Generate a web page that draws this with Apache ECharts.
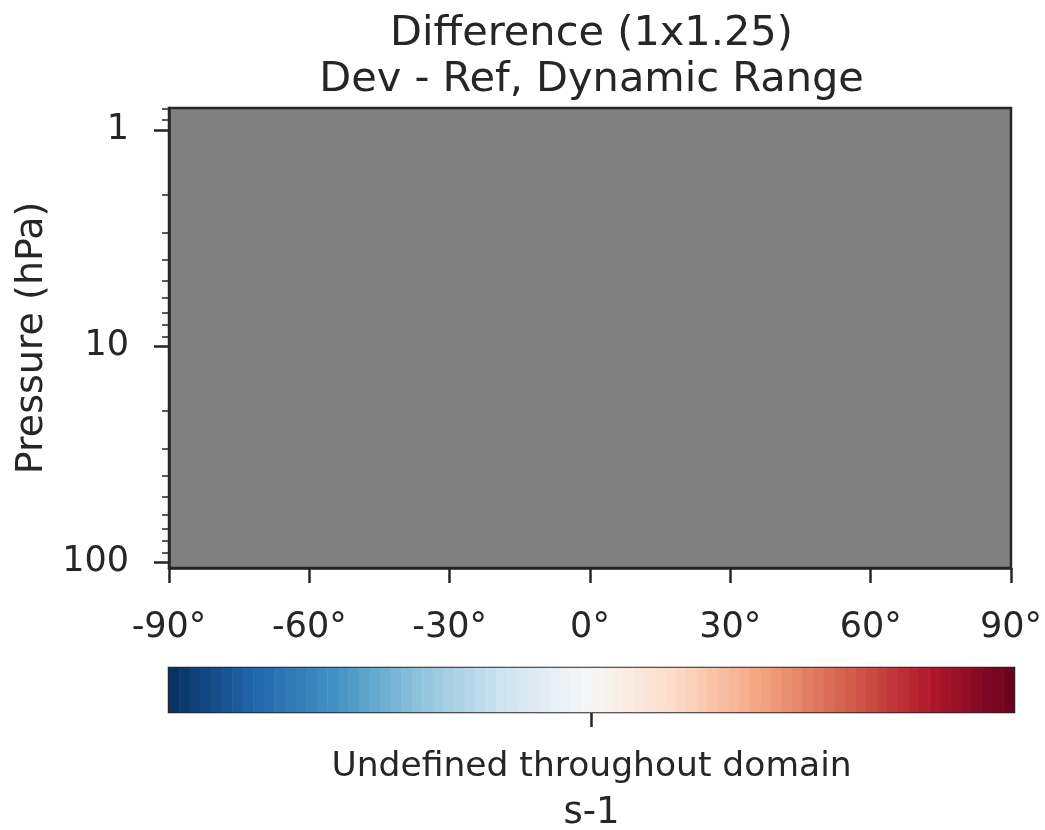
<!DOCTYPE html>
<html>
<head>
<meta charset="utf-8">
<script src="https://cdn.jsdelivr.net/npm/echarts@6/dist/echarts.min.js"></script>
<style>
  html, body { margin: 0; padding: 0; background: #fff; }
  #chart { width: 1045px; height: 830px; }
</style>
</head>
<body>
<div id="chart"></div>
<script>
var latTicks = [-90, -60, -30, 0, 30, 60, 90];
var pressureRange = [0.79, 106.4];
var majorPressure = [1, 10, 100];
var minorPressure = [0.8, 0.9, 2, 3, 4, 5, 6, 7, 8, 9, 20, 30, 40, 50, 60, 70, 80, 90];
var colorbarLevels = [
    -0.9875, -0.9625, -0.9375, -0.9125, -0.8875, -0.8625, -0.8375, -0.8125, -0.7875, -0.7625,
    -0.7375, -0.7125, -0.6875, -0.6625, -0.6375, -0.6125, -0.5875, -0.5625, -0.5375, -0.5125,
    -0.4875, -0.4625, -0.4375, -0.4125, -0.3875, -0.3625, -0.3375, -0.3125, -0.2875, -0.2625,
    -0.2375, -0.2125, -0.1875, -0.1625, -0.1375, -0.1125, -0.0875, -0.0625, -0.0375, -0.0125,
    0.0125, 0.0375, 0.0625, 0.0875, 0.1125, 0.1375, 0.1625, 0.1875, 0.2125, 0.2375,
    0.2625, 0.2875, 0.3125, 0.3375, 0.3625, 0.3875, 0.4125, 0.4375, 0.4625, 0.4875,
    0.5125, 0.5375, 0.5625, 0.5875, 0.6125, 0.6375, 0.6625, 0.6875, 0.7125, 0.7375,
    0.7625, 0.7875, 0.8125, 0.8375, 0.8625, 0.8875, 0.9125, 0.9375, 0.9625, 0.9875
];
var colorbarTicks = [0];
var rdbuR = ['#053061', '#2166ac', '#4393c3', '#92c5de', '#d1e5f0', '#f7f7f7',
             '#fddbc7', '#f4a582', '#d6604d', '#b2182b', '#67001f'];

var ink = '#262626';
var font = 'DejaVu Sans';

var myChart = echarts.init(document.getElementById('chart'));

var lg = function (p) { return Math.log10(p); };

myChart.setOption({
    animation: false,
    textStyle: { fontFamily: font, color: ink },
    title: [{
        text: 'Difference (1x1.25)\nDev - Ref, Dynamic Range',
        left: 591.5,
        top: 11.5,
        padding: 0,
        textAlign: 'center',
        textStyle: { fontFamily: font, fontSize: 41.5, fontWeight: 'normal', color: ink, lineHeight: 46 }
    }, {
        text: 'Undefined throughout domain',
        left: 591.5,
        top: 747,
        padding: 0,
        textAlign: 'center',
        textStyle: { fontFamily: font, fontSize: 34.5, fontWeight: 'normal', color: ink, lineHeight: 40 }
    }, {
        text: 's-1',
        left: 591.5,
        top: 792,
        padding: 0,
        textAlign: 'center',
        textStyle: { fontFamily: font, fontSize: 37, fontWeight: 'normal', color: ink, lineHeight: 43 }
    }],
    grid: [{
        left: 169, top: 108, width: 845, height: 460,
        show: true,
        backgroundColor: '#808080',
        borderColor: ink,
        borderWidth: 2.5
    }, {
        left: 169, top: 668, width: 845, height: 44,
        show: true,
        backgroundColor: 'transparent',
        borderColor: ink,
        borderWidth: 2.5
    }],
    xAxis: [{
        gridIndex: 0,
        type: 'value',
        position: 'bottom',
        min: latTicks[0],
        max: latTicks[latTicks.length - 1],
        interval: 30,
        axisLine: { show: true, onZero: false, lineStyle: { color: ink, width: 2.5 } },
        axisTick: { show: true, length: 15, lineStyle: { color: ink, width: 2.5 } },
        axisLabel: {
            margin: 42,
            fontSize: 35, fontFamily: font, color: ink,
            formatter: function (v) { return v + '°'; }
        },
        splitLine: { show: false }
    }, {
        gridIndex: 1,
        type: 'category',
        data: colorbarLevels.map(String),
        show: false
    }, {
        gridIndex: 1,
        type: 'value',
        position: 'bottom',
        min: -1,
        max: 1,
        axisLine: { show: false, onZero: false },
        axisTick: { show: true, length: 15, customValues: colorbarTicks, lineStyle: { color: ink, width: 2.5 } },
        axisLabel: { show: false },
        splitLine: { show: false }
    }],
    yAxis: [{
        gridIndex: 0,
        type: 'value',
        inverse: true,
        position: 'left',
        min: lg(pressureRange[0]),
        max: lg(pressureRange[1]),
        name: 'Pressure (hPa)',
        nameLocation: 'middle',
        nameGap: 116,
        nameTextStyle: { fontSize: 38, fontFamily: font, color: ink },
        axisLine: { show: true, onZero: false, lineStyle: { color: ink, width: 2.5 } },
        axisTick: { show: true, length: 15, customValues: majorPressure.map(lg), lineStyle: { color: ink, width: 2.5 } },
        axisLabel: {
            customValues: majorPressure.map(lg),
            margin: 40,
            fontSize: 35, fontFamily: font, color: ink,
            formatter: function (v) { return String(Math.round(Math.pow(10, v))); }
        },
        splitLine: { show: false }
    }, {
        gridIndex: 0,
        type: 'value',
        inverse: true,
        position: 'left',
        offset: 0,
        min: lg(pressureRange[0]),
        max: lg(pressureRange[1]),
        axisLine: { show: false, onZero: false },
        axisTick: { show: true, length: 7, customValues: minorPressure.map(lg), lineStyle: { color: ink, width: 1.5 } },
        axisLabel: { show: false },
        splitLine: { show: false }
    }, {
        gridIndex: 1,
        type: 'category',
        data: ['cb'],
        show: false
    }],
    visualMap: {
        type: 'continuous',
        show: false,
        min: -1,
        max: 1,
        seriesIndex: 0,
        dimension: 2,
        inRange: { color: rdbuR }
    },
    series: [{
        name: 'colorbar',
        type: 'heatmap',
        xAxisIndex: 1,
        yAxisIndex: 2,
        data: colorbarLevels.map(function (v, i) { return [i, 0, v]; }),
        silent: true
    }]
});
</script>
</body>
</html>
